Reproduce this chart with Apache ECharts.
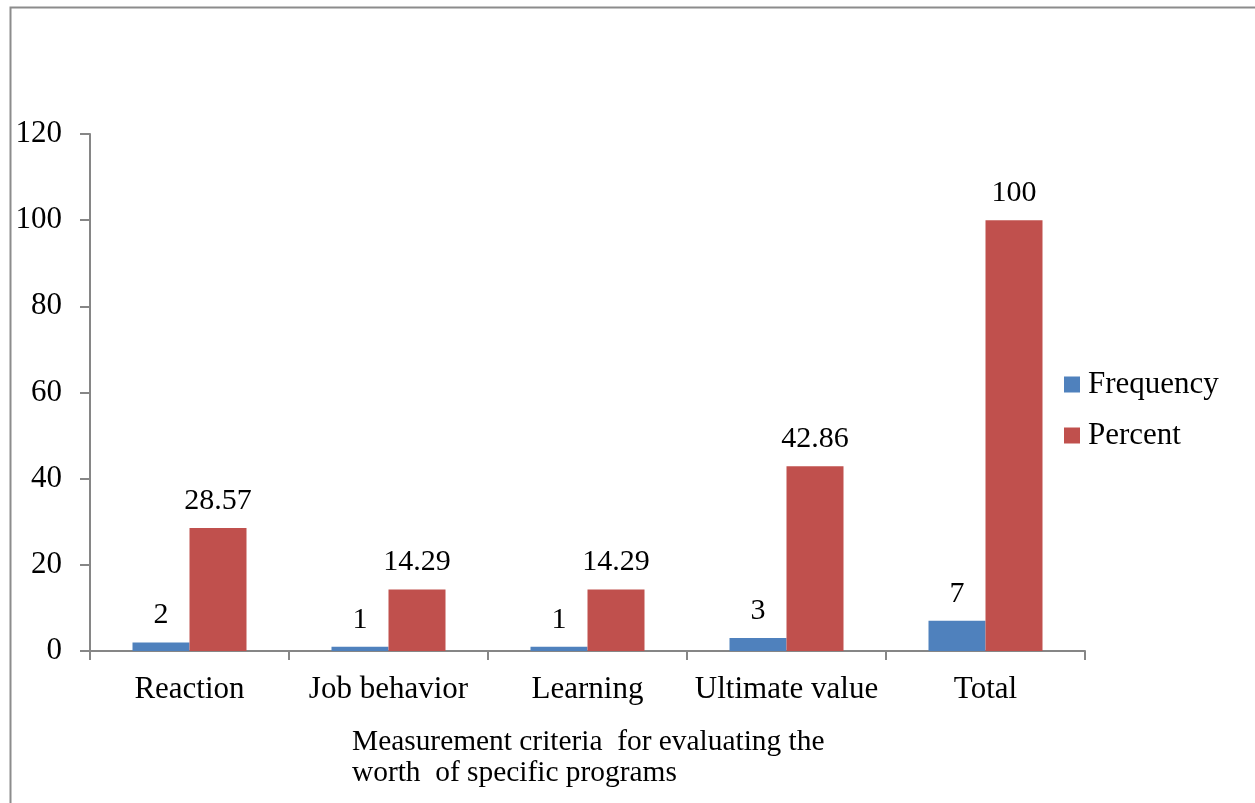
<!DOCTYPE html>
<html>
<head>
<meta charset="utf-8">
<script src="https://cdn.jsdelivr.net/npm/echarts@6/dist/echarts.min.js"></script>
<style>
  html, body { margin: 0; padding: 0; background: #fff; }
  #chart { width: 1255px; height: 803px; }
</style>
</head>
<body>
<div id="chart"></div>
<script>
// Measurement criteria and their counts / shares
const categories = ['Reaction', 'Job behavior', 'Learning', 'Ultimate value', 'Total'];
const frequency = [2, 1, 1, 3, 7];
const percent = [28.57, 14.29, 14.29, 42.86, 100];
const yTicks = [0, 20, 40, 60, 80, 100, 120];
const axisTitle = 'Measurement criteria  for evaluating the\nworth  of specific programs';

const FONT = '"Liberation Serif", "Times New Roman", serif';
const AXIS_GRAY = '#868686';

const chart = echarts.init(document.getElementById('chart'), null, { renderer: 'canvas' });

const labelStyle = {
  show: true,
  position: 'top',
  distance: 12,
  color: '#000',
  fontFamily: FONT,
  fontSize: 30
};

chart.setOption({
  animation: false,
  backgroundColor: '#fff',
  graphic: [{
    type: 'rect',
    shape: { x: 10.5, y: 7.5, width: 1300, height: 900 },
    style: { fill: 'none', stroke: '#8c8c8c', lineWidth: 2 },
    silent: true
  }],
  title: {
    text: axisTitle,
    left: 352,
    top: 727,
    padding: 0,
    textStyle: {
      fontFamily: FONT,
      fontSize: 29.4,
      fontWeight: 'normal',
      color: '#000',
      lineHeight: 31
    }
  },
  legend: {
    orient: 'vertical',
    left: 1064,
    top: 369,
    padding: 0,
    itemWidth: 16,
    itemHeight: 16,
    itemGap: 20,
    icon: 'rect',
    textStyle: {
      fontFamily: FONT,
      fontSize: 31,
      color: '#000',
      lineHeight: 31,
      padding: [0, 0, 0, 3]
    },
    data: ['Frequency', 'Percent']
  },
  grid: {
    left: 90,
    right: 170,
    top: 134,
    bottom: 152,
    containLabel: false
  },
  xAxis: {
    type: 'category',
    data: categories,
    axisLine: { lineStyle: { color: AXIS_GRAY, width: 2 } },
    axisTick: { show: true, length: 9, lineStyle: { color: AXIS_GRAY, width: 2 } },
    axisLabel: {
      color: '#000',
      fontFamily: FONT,
      fontSize: 31,
      lineHeight: 31,
      margin: 23,
      interval: 0
    }
  },
  yAxis: {
    type: 'value',
    min: yTicks[0],
    max: yTicks[yTicks.length - 1],
    interval: yTicks[1] - yTicks[0],
    splitLine: { show: false },
    axisLine: { show: true, lineStyle: { color: AXIS_GRAY, width: 2 } },
    axisTick: { show: true, length: 10, lineStyle: { color: AXIS_GRAY, width: 2 } },
    axisLabel: {
      color: '#000',
      fontFamily: FONT,
      fontSize: 31,
      margin: 28
    }
  },
  series: [
    {
      name: 'Frequency',
      type: 'bar',
      data: frequency,
      barWidth: 57,
      barGap: '0%',
      itemStyle: { color: '#4F81BD' },
      label: labelStyle
    },
    {
      name: 'Percent',
      type: 'bar',
      data: percent,
      barWidth: 57,
      barGap: '0%',
      itemStyle: { color: '#C0504D' },
      label: labelStyle
    }
  ]
});
</script>
</body>
</html>
